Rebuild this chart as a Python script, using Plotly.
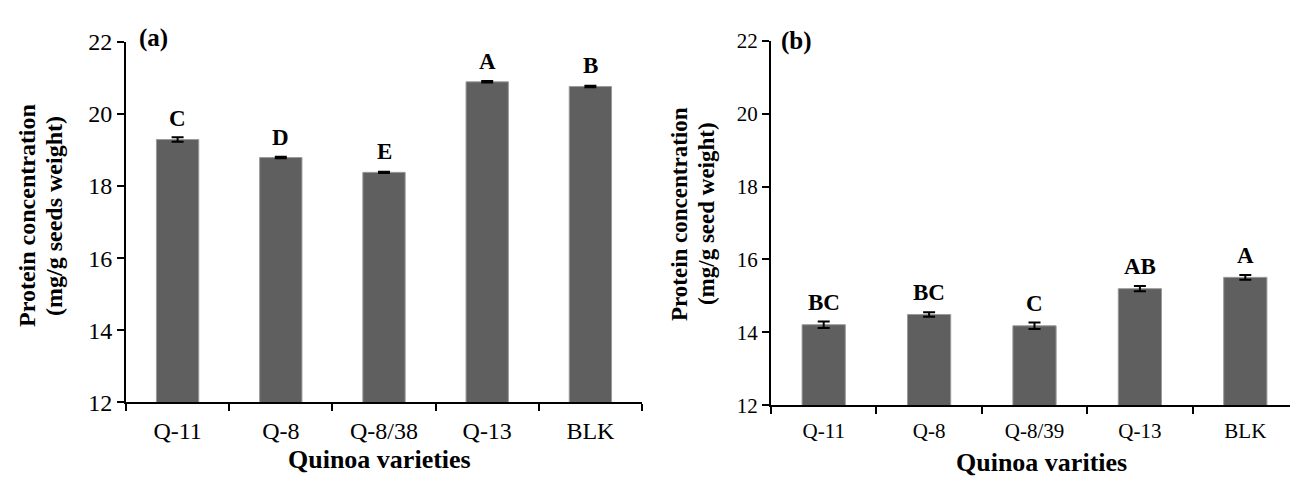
import plotly.graph_objects as go

# ---- data ----
cats_a = ["Q-11", "Q-8", "Q-8/38", "Q-13", "BLK"]
vals_a = [19.29, 18.79, 18.38, 20.89, 20.76]
err_a = [0.06, 0.02, 0.02, 0.02, 0.02]
letters_a = ["C", "D", "E", "A", "B"]

cats_b = ["Q-11", "Q-8", "Q-8/39", "Q-13", "BLK"]
vals_b = [14.21, 14.49, 14.18, 15.20, 15.51]
err_b = [0.09, 0.06, 0.09, 0.07, 0.065]
letters_b = ["BC", "BC", "C", "AB", "A"]

yticks = [12, 14, 16, 18, 20, 22]

FONT = "Liberation Serif"
BAR = "#5f5f5f"
W, H = 1298, 485

fig = go.Figure()
fig.add_trace(go.Bar(x=cats_a, y=vals_a, width=0.41, xaxis="x", yaxis="y",
                     marker=dict(color=BAR, line=dict(color="#9a9a9a", width=1)),
                     error_y=dict(type="data", array=err_a, color="black", thickness=2, width=6),
                     showlegend=False))
fig.add_trace(go.Bar(x=cats_b, y=vals_b, width=0.41, xaxis="x2", yaxis="y2",
                     marker=dict(color=BAR, line=dict(color="#9a9a9a", width=1)),
                     error_y=dict(type="data", array=err_b, color="black", thickness=2, width=6),
                     showlegend=False))


def txt(x, y, text, size, angle=0):
    return dict(x=x / W, y=1 - y / H, xref="paper", yref="paper", text=text, textangle=angle,
                showarrow=False, xanchor="center", yanchor="middle",
                font=dict(family=FONT, size=size, color="black"))


ann = []
for c, v, l in zip(cats_a, vals_a, letters_a):
    ann.append(dict(x=c, y=v + 0.57, xref="x", yref="y", text="<b>%s</b>" % l, showarrow=False,
                    xanchor="center", yanchor="middle",
                    font=dict(family=FONT, size=23, color="black")))
for c, v, l in zip(cats_b, vals_b, letters_b):
    ann.append(dict(x=c, y=v + 0.6, xref="x2", yref="y2", text="<b>%s</b>" % l, showarrow=False,
                    xanchor="center", yanchor="middle",
                    font=dict(family=FONT, size=23, color="black")))

# panel labels
ann.append(txt(145, 18, "<b>(a)</b>", 25))
ann.append(txt(788, 21, "<b>(b)</b>", 25))

# axis titles (each line separately to control spacing)
ann.append(txt(19, 206, "<b>Protein concentration</b>", 24, -90))
ann.append(txt(46, 206, "<b>(mg/g seeds weight)</b>", 24, -90))
ann.append(txt(671, 204, "<b>Protein concentration</b>", 23, -90))
ann.append(txt(698, 204, "<b>(mg/g seed weight)</b>", 23, -90))
ann.append(txt(372, 463, "<b>Quinoa varieties</b>", 26))
ann.append(txt(1033, 467, "<b>Quinoa varities</b>", 26))

xax = dict(type="category", range=[-0.5, 4.5], showline=True, linecolor="black", linewidth=2,
           ticks="outside", tickson="boundaries", ticklen=7, tickwidth=2, tickcolor="black",
           showgrid=False, zeroline=False, ticklabelstandoff=6)
yax = dict(range=[12, 22], tickvals=yticks, showline=True, linecolor="black", linewidth=2,
           ticks="outside", ticklen=7, tickwidth=2, tickcolor="black", showgrid=False, zeroline=False)

fig.update_layout(
    width=W, height=H,
    margin=dict(l=0, r=0, t=0, b=0),
    paper_bgcolor="white", plot_bgcolor="white",
    font=dict(family=FONT, color="black"),
    xaxis=dict(xax, domain=[118 / W, 634 / W], anchor="y", tickfont=dict(family=FONT, size=24)),
    yaxis=dict(yax, domain=[1 - 403 / H, 1 - 22 / H], anchor="x", tickfont=dict(family=FONT, size=24)),
    xaxis2=dict(xax, domain=[763 / W, 1290 / W], anchor="y2", tickfont=dict(family=FONT, size=21)),
    yaxis2=dict(yax, domain=[1 - 406 / H, 1 - 21 / H], anchor="x2", tickfont=dict(family=FONT, size=21)),
    annotations=ann,
)

fig.write_html("out.html")
